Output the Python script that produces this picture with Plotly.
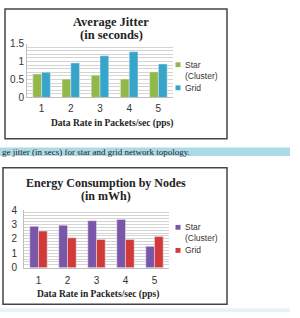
import plotly.graph_objects as go

W, H = 300, 318

# ---- data ----
rates = ["1", "2", "3", "4", "5"]
jitter_star = [0.65, 0.51, 0.62, 0.51, 0.71]
jitter_grid = [0.70, 0.96, 1.16, 1.27, 0.93]
energy_star = [2.87, 2.94, 3.26, 3.35, 1.48]
energy_grid = [2.54, 2.07, 1.96, 1.96, 2.16]
jitter_ticks = [0, 0.5, 1, 1.5]
jitter_ticklabels = ["0", "0.5", "1", "1.5"]
energy_ticks = [0, 1, 2, 3, 4]

c_green, c_blue = "#93b84a", "#37a5c9"
c_purple, c_red = "#7a56a8", "#d23a3a"

def px_x(x):
    return x / W

def px_y(y):
    return 1 - y / H

fig = go.Figure()
fig.add_trace(go.Bar(x=rates, y=jitter_star, name="Star (Cluster)", marker_color=c_green,
                     xaxis="x", yaxis="y", showlegend=False))
fig.add_trace(go.Bar(x=rates, y=jitter_grid, name="Grid", marker_color=c_blue,
                     xaxis="x", yaxis="y", showlegend=False))
fig.add_trace(go.Bar(x=rates, y=energy_star, name="Star (Cluster)", marker_color=c_purple,
                     xaxis="x2", yaxis="y2", showlegend=False))
fig.add_trace(go.Bar(x=rates, y=energy_grid, name="Grid", marker_color=c_red,
                     xaxis="x2", yaxis="y2", showlegend=False))

tickfont = dict(family="Liberation Sans, Arial", size=10, color="#333")
grid_col = "#d4d4d4"

fig.update_layout(
    width=W, height=H, margin=dict(l=0, r=0, t=0, b=0),
    paper_bgcolor="white", plot_bgcolor="white",
    barmode="group", bargap=0.4, bargroupgap=0,
    xaxis=dict(domain=[px_x(27), px_x(173)], anchor="y", showgrid=False,
               showline=True, linecolor="#bfbfbf", linewidth=1,
               tickfont=tickfont, ticks="", ticklabelstandoff=2, fixedrange=True),
    yaxis=dict(domain=[px_y(95), px_y(39)], anchor="x", range=[0, 1.5],
               tickvals=jitter_ticks, ticktext=jitter_ticklabels,
               showgrid=True, gridcolor=grid_col, gridwidth=1,
               minor=dict(dtick=0.1, showgrid=True, gridcolor=grid_col, gridwidth=1),
               showline=True, linecolor="#bfbfbf", zeroline=False,
               tickfont=tickfont, ticks="", ticklabelstandoff=0),
    xaxis2=dict(domain=[px_x(24), px_x(169)], anchor="y2", showgrid=False,
                showline=True, linecolor="#bfbfbf", linewidth=1,
                tickfont=tickfont, ticks="", ticklabelstandoff=3),
    yaxis2=dict(domain=[px_y(272), px_y(212)], anchor="x2", range=[0, 4],
                tickvals=energy_ticks,
                showgrid=True, gridcolor=grid_col, gridwidth=1,
                minor=dict(dtick=0.2, showgrid=True, gridcolor=grid_col, gridwidth=1),
                showline=True, linecolor="#bfbfbf", zeroline=False,
                tickfont=tickfont, ticks="", ticklabelstandoff=4),
)

shapes = []
annotations = []

# frames
shapes.append(dict(type="rect", xref="paper", yref="paper",
                   x0=px_x(5), x1=px_x(227), y0=px_y(138), y1=px_y(3),
                   line=dict(color="#444", width=1.5)))
shapes.append(dict(type="rect", xref="paper", yref="paper",
                   x0=px_x(3), x1=px_x(227), y0=px_y(310), y1=px_y(168),
                   line=dict(color="#444", width=1.5)))
# caption band
shapes.append(dict(type="rect", xref="paper", yref="paper",
                   x0=0, x1=px_x(290), y0=px_y(156), y1=px_y(147),
                   fillcolor="#acdbe8", line=dict(width=0), layer="below"))
shapes.append(dict(type="rect", xref="paper", yref="paper",
                   x0=0, x1=px_x(290), y0=0, y1=px_y(314),
                   fillcolor="#e8f3f7", line=dict(width=0), layer="below"))

title_font = dict(family="Liberation Serif, Times New Roman", size=12.5, color="#222")
title_font2 = dict(family="Liberation Serif, Times New Roman", size=12, color="#222")
axis_title_font = dict(family="Liberation Serif, Times New Roman", size=9.5, color="#222")

def text(x, y, t, font, xanchor="center"):
    annotations.append(dict(x=px_x(x), y=px_y(y), xref="paper", yref="paper",
                            text=t, showarrow=False, font=font,
                            xanchor=xanchor, yanchor="middle"))

text(111, 17, "<b>Average Jitter</b>", title_font)
text(111, 30, "<b>(in seconds)</b>", title_font)
text(112, 122, "<b>Data Rate in Packets/sec (pps)</b>", axis_title_font)

text(106, 184, "<b>Energy Consumption by Nodes</b>", title_font2)
text(106, 197, "<b>(in mWh)</b>", title_font2)
text(98, 300, "<b>Data Rate in Packets/sec (pps)</b>", axis_title_font)

cap_font = dict(family="Liberation Serif, Times New Roman", size=9, color="#222")
text(0, 151.5, "ge jitter (in secs) for star and grid network topology.", cap_font, xanchor="left")

# manual legends
leg_font = dict(family="Liberation Sans, Arial", size=8.5, color="#333")

def legend_item(x, y, color, label_lines):
    shapes.append(dict(type="rect", xref="paper", yref="paper",
                       x0=px_x(x - 2.5), x1=px_x(x + 2.5), y0=px_y(y + 2.5), y1=px_y(y - 2.5),
                       fillcolor=color, line=dict(width=0)))
    for i, ln in enumerate(label_lines):
        text(x + 5, y + i * 11.5, ln, leg_font, xanchor="left")

legend_item(178, 61, c_green, ["Star", "(Cluster)"])
legend_item(178, 85, c_blue, ["Grid"])
legend_item(178, 230, c_purple, ["Star", "(Cluster)"])
legend_item(178, 254, c_red, ["Grid"])

fig.update_layout(shapes=shapes, annotations=annotations)
fig.write_html("out.html")
